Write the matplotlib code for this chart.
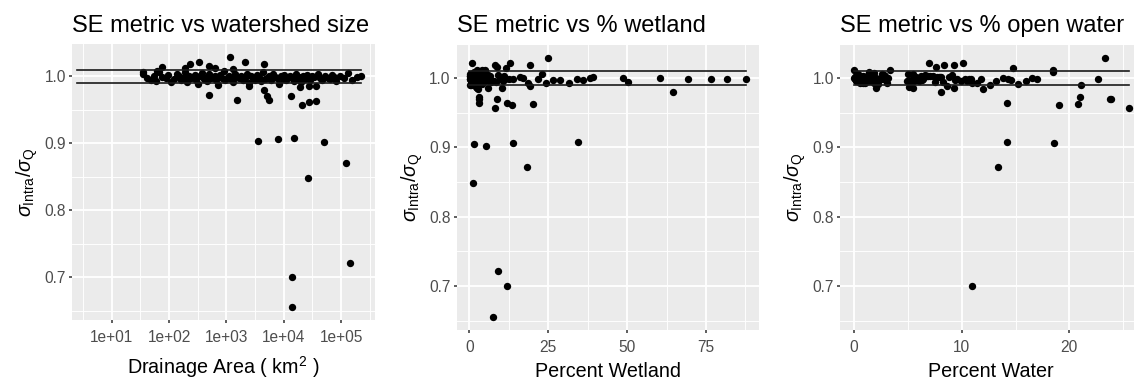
import numpy as np
import matplotlib
matplotlib.use("Agg")
import matplotlib.pyplot as plt
from matplotlib.ticker import FixedLocator, FixedFormatter

plt.rcParams['font.family'] = ['Liberation Sans', 'DejaVu Sans']
plt.rcParams['mathtext.fontset'] = 'custom'
plt.rcParams['mathtext.rm'] = 'Liberation Sans'
plt.rcParams['mathtext.it'] = 'Liberation Sans:italic'
plt.rcParams['mathtext.sf'] = 'Liberation Sans'

# ---- station records: SE ratio and three watershed descriptors ----
# stations whose ratio sits inside the +/-1% band
band_ratio = [
    1.003, 0.998, 0.995, 1.001, 0.993, 1.006, 0.999, 0.997, 1.002, 0.991,
    0.996, 1.004, 1.000, 0.994, 0.998, 1.007, 0.992, 1.001, 0.997, 0.999,
    1.002, 0.995, 0.989, 1.000, 1.005, 0.996, 0.998, 0.993, 1.003, 0.997,
    0.999, 1.001, 0.994, 0.987, 1.002, 0.998, 1.008, 0.995, 0.999, 1.000,
    0.996, 0.992, 1.004, 0.999, 0.997, 1.001, 0.994, 0.998, 1.003, 0.990,
    1.000, 0.997, 0.995, 1.002, 0.999, 0.993, 1.006, 0.996, 0.998, 1.001,
    0.994, 1.003, 0.999, 0.997, 0.988, 1.000, 0.996, 1.002, 0.995, 0.999,
    1.001, 0.998, 0.993, 1.004, 0.997, 0.999, 0.991, 1.000, 0.996, 1.002,
    0.998, 0.995, 1.001, 0.999, 0.986, 1.003, 0.997, 0.994, 1.000, 0.998,
    0.996, 1.002, 0.999, 0.993, 1.001, 0.997, 1.005, 0.995, 0.999, 1.000,
]
band_area = [
    35, 42, 48, 55, 60, 68, 75, 88, 95, 110,
    120, 135, 150, 160, 175, 190, 205, 220, 240, 260,
    280, 300, 320, 345, 370, 400, 430, 460, 500, 540,
    580, 620, 670, 720, 780, 840, 900, 960, 1050, 1120,
    1200, 1300, 1400, 1500, 1650, 1800, 1950, 2100, 2300, 2500,
    2700, 2900, 3100, 3400, 3700, 4000, 4300, 4700, 5100, 5600,
    6000, 6500, 7000, 7600, 8200, 8800, 9500, 10200, 11000, 12000,
    13000, 14000, 15000, 16000, 17000, 18500, 20000, 21500, 23000, 25000,
    27000, 29000, 31000, 33000, 36000, 39000, 42000, 47000, 52000, 58000,
    64000, 69000, 75000, 82000, 95000, 110000, 130000, 155000, 190000, 224000,
]
band_wetland = [
    0.5, 1.2, 2.0, 39.3, 31.7, 23.1, 87.6, 36.1, 0.3, 1.8,
    2.6, 0.9, 60.4, 50.4, 76.5, 4.1, 1.4, 3.3, 5.2, 81.6,
    0.2, 6.4, 0.6, 48.8, 2.9, 7.3, 69.4, 24.3, 1.0, 28.7,
    34.0, 1.7, 3.8, 2.2, 0.7, 21.7, 4.5, 0.4, 9.8, 38.2,
    1.1, 0.8, 5.8, 2.4, 26.6, 16.1, 6.9, 1.5, 3.6, 0.3,
    17.1, 2.1, 10.6, 0.6, 4.8, 18.7, 1.3, 7.9, 0.1, 2.7,
    1.9, 0.5, 12.5, 3.4, 19.2, 5.5, 0.9, 2.3, 6.1, 1.6,
    4.3, 0.2, 2.8, 9.1, 1.2, 13.7, 3.9, 0.7, 7.0, 10.9,
    0.4, 5.0, 1.8, 11.2, 2.5, 0.8, 4.0, 8.4, 3.0, 1.4,
    2.0, 6.6, 0.6, 1.0, 3.2, 5.9, 0.3, 4.6, 1.1, 2.4,
]
band_water = [
    0.2, 0.5, 1.1, 8.0, 0.8, 5.5, 0.1, 6.3, 1.5, 2.2,
    0.3, 2.8, 0.0, 7.5, 0.4, 1.9, 0.6, 8.8, 3.0, 9.6,
    1.2, 10.5, 21.1, 0.7, 5.0, 0.9, 2.5, 11.4, 6.8, 0.2,
    1.8, 7.9, 2.0, 5.1, 0.5, 11.8, 1.4, 4.9, 10.9, 0.1,
    6.0, 1.0, 9.1, 2.7, 9.4, 0.3, 8.3, 1.6, 0.6, 12.6,
    3.2, 5.3, 0.9, 7.1, 2.3, 11.0, 0.4, 9.9, 1.3, 5.8,
    0.7, 2.9, 10.3, 1.7, 8.6, 16.5, 16.0, 6.2, 5.6, 22.7,
    0.1, 17.0, 1.9, 6.6, 14.6, 14.3, 15.2, 13.8, 13.2, 0.8,
    2.4, 0.2, 7.7, 1.1, 9.3, 6.9, 0.5, 5.2, 2.0, 10.7,
    1.4, 7.3, 0.3, 3.1, 8.1, 0.6, 2.6, 1.7, 6.4, 0.9,
]

# stations outside the band
out_ratio = [1.029, 1.022, 1.021, 1.018, 1.018, 1.016, 1.014, 1.012, 1.012, 1.011,
             1.008, 1.006,
             0.655, 0.700, 0.722, 0.849, 0.871, 0.904, 0.906, 0.908, 0.902,
             0.980, 0.972, 0.964, 0.957, 0.961, 0.963, 0.970, 0.970, 0.964,
             0.984, 0.985, 0.986]
out_area = [1150, 330, 2140, 4470, 234, 490, 76, 190, 630, 1320,
            62, 35,
            13800, 13800, 145000, 26000, 120000, 3600, 7800, 15000, 51000,
            4500, 505, 1500, 20700, 28000, 37000, 13500, 5000, 5500,
            19500, 27000, 2500]
out_wetland = [25.0, 0.8, 12.9, 19.2, 8.1, 8.9, 11.6, 2.5, 5.0, 4.0,
               1.5, 0.6,
               7.6, 12.0, 9.2, 1.1, 18.2, 1.6, 14.0, 34.5, 5.3,
               64.4, 3.1, 3.1, 8.1, 13.4, 20.3, 8.7, 3.0, 11.8,
               2.9, 6.0, 10.2]
out_water = [23.3, 10.1, 7.0, 9.3, 8.4, 7.6, 14.8, 3.3, 18.5, 0.0,
             18.5, 0.3,
             np.nan, 11.0, np.nan, np.nan, 13.4, np.nan, 18.6, 14.2, np.nan,
             8.1, 21.0, 14.2, 25.5, 19.0, 20.8, 23.8, 23.9, np.nan,
             12.0, 5.5, 2.0]

# reference band around a ratio of one, drawn over each descriptor's range
ref_levels = [0.99, 1.01]
ref_span_area = [2.5, 224000]
ref_span_wetland = [0.0, 87.6]
ref_span_water = [0.0, 25.5]

ratio = np.array(band_ratio + out_ratio)
area = np.array(band_area + out_area, dtype=float)
wetland = np.array(band_wetland + out_wetland)
water = np.array(band_water + out_water)

# ---- figure ----
W, H = 1134, 381
fig = plt.figure(figsize=(W / 100, H / 100), dpi=100)


def px_axes(left, right, top, bottom):
    return fig.add_axes([left / W, 1 - bottom / H, (right - left) / W, (bottom - top) / H])


BG = '#EBEBEB'
TXT = '#4D4D4D'
YLIM = (0.6363, 1.0477)
ylabel = r'$\sigma_{\mathrm{Intra}}/\sigma_{\mathrm{Q}}$'


def style(ax, xmajor, xminor, xlabels, xlim, title, xlabel, xlabelpad):
    ax.set_facecolor(BG)
    for s in ax.spines.values():
        s.set_visible(False)
    ax.set_ylim(*YLIM)
    ax.set_xlim(*xlim)
    ax.yaxis.set_major_locator(FixedLocator([0.7, 0.8, 0.9, 1.0]))
    ax.yaxis.set_major_formatter(FixedFormatter(['0.7', '0.8', '0.9', '1.0']))
    ax.yaxis.set_minor_locator(FixedLocator([0.65, 0.75, 0.85, 0.95]))
    ax.xaxis.set_major_locator(FixedLocator(xmajor))
    ax.xaxis.set_major_formatter(FixedFormatter(xlabels))
    ax.xaxis.set_minor_locator(FixedLocator(xminor))
    ax.grid(which='major', color='white', lw=1.3)
    ax.grid(which='minor', color='white', lw=0.65)
    ax.set_axisbelow(True)
    ax.tick_params(which='major', length=2.5, width=1.1, color='#333333',
                   labelsize=11.2, labelcolor=TXT, pad=2)
    ax.tick_params(axis='x', which='major', pad=4.5)
    ax.tick_params(which='minor', length=0)
    ax.set_title(title, loc='left', fontsize=17, pad=9)
    ax.set_xlabel(xlabel, fontsize=14.2, labelpad=xlabelpad)
    ax.set_ylabel(ylabel, fontsize=14.2, labelpad=3)


def draw(ax, x, span):
    ok = ~np.isnan(x)
    ax.scatter(x[ok], ratio[ok], s=28, color='black', linewidths=0, zorder=3)
    for lv in ref_levels:
        ax.plot(span, [lv, lv], color='#1a1a1a', lw=1.2, zorder=4)


# watershed size (log scale)
ax1 = px_axes(72, 375, 44.4, 320)
ax1.set_xscale('log')
draw(ax1, area, ref_span_area)
style(ax1, [1e1, 1e2, 1e3, 1e4, 1e5],
      [10 ** 0.5, 10 ** 1.5, 10 ** 2.5, 10 ** 3.5, 10 ** 4.5, 10 ** 5.5],
      ['1e+01', '1e+02', '1e+03', '1e+04', '1e+05'],
      (10 ** 0.307, 10 ** 5.59), 'SE metric vs watershed size',
      r'Drainage Area ( km$^{2}$ )', 7)

# percent wetland
ax2 = px_axes(456.7, 759.3, 44.8, 330)
draw(ax2, wetland, ref_span_wetland)
style(ax2, [0, 25, 50, 75], [12.5, 37.5, 62.5, 87.5], ['0', '25', '50', '75'],
      (-4.0, 91.9), 'SE metric vs % wetland', 'Percent Wetland', 5)

# percent open water
ax3 = px_axes(840, 1142.6, 44.8, 330)
draw(ax3, water, ref_span_water)
style(ax3, [0, 10, 20], [5, 15, 25], ['0', '10', '20'],
      (-1.3, 26.8), 'SE metric vs % open water', 'Percent Water', 5)

fig.savefig('out.png', dpi=100, facecolor='white')
